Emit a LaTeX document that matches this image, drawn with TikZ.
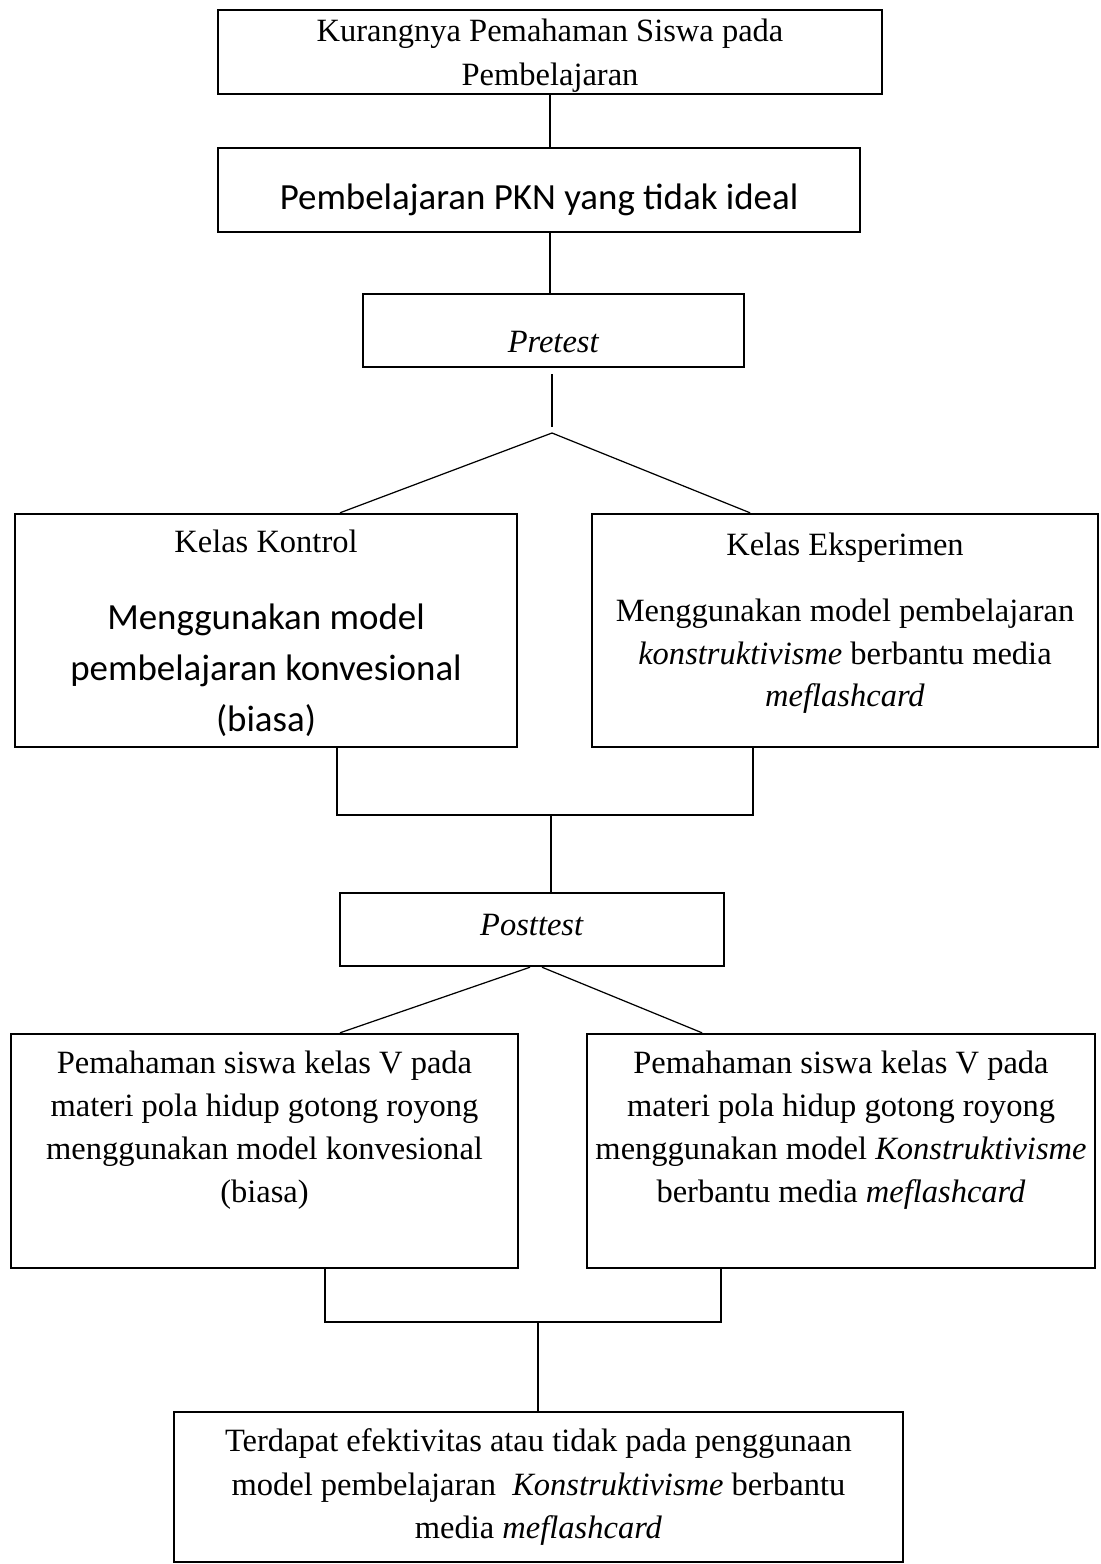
\documentclass[tikz,border=0pt]{standalone}
\usepackage{fontspec}
\setmainfont{Liberation Serif}
\newfontfamily\calibri{Carlito}
\newcommand{\kal}{\calibri\fontsize{21}{29}\selectfont}
\usetikzlibrary{positioning}

\begin{document}
\begin{tikzpicture}[x=0.02cm,y=-0.02cm,
    box/.style={draw,line width=1.4pt,align=center,inner sep=0pt,font=\fontsize{18.5}{24.5}\selectfont},
    link/.style={line width=0.7pt}]
    \useasboundingbox (0,0) rectangle (1100,1564);
    \node[box,minimum width=13.28cm,minimum height=1.68cm,font=\fontsize{18.5}{25}\selectfont,text depth=0pt] (masalah) at (550,52) {Kurangnya Pemahaman Siswa pada\\Pembelajaran};
    \node[box,minimum width=12.84cm,minimum height=1.68cm,font=\kal,text height=26pt,text depth=4.2pt] (pkn) at (539,190) {Pembelajaran PKN yang tidak ideal};
    \node[box,minimum width=7.62cm,minimum height=1.46cm,text height=25.6pt,text depth=0pt] (pre) at (553.5,330.5) {\textit{Pretest}};
    \node[box,minimum width=10.04cm,minimum height=4.66cm,font=\fontsize{18.5}{29}\selectfont,text depth=0pt] (kontrol) at (266,630.5) {Kelas Kontrol\\[14.8pt]{\kal Menggunakan model}\\{\kal pembelajaran konvesional}\\{\kal (biasa)}};
    \node[box,minimum width=10.12cm,minimum height=4.66cm,font=\fontsize{18.5}{24.2}\selectfont,text depth=12.2pt] (eksperimen) at (845,630.5) {Kelas Eksperimen\\[13.8pt]Menggunakan model pembelajaran\\\textit{konstruktivisme} berbantu media\\\textit{meflashcard}};
    \node[box,minimum width=7.68cm,minimum height=1.46cm,text depth=5.7pt] (post) at (532,929.5) {\textit{Posttest}};
    \node[box,minimum width=10.14cm,minimum height=4.68cm,text depth=28pt] (hasilk) at (264.5,1151) {Pemahaman siswa kelas V pada\\materi pola hidup gotong royong\\menggunakan model konvesional\\(biasa)};
    \node[box,minimum width=10.16cm,minimum height=4.68cm,text depth=28pt] (hasile) at (841,1151) {Pemahaman siswa kelas V pada\\materi pola hidup gotong royong\\menggunakan model \textit{Konstruktivisme}\\berbantu media \textit{meflashcard}};
    \node[box,minimum width=14.58cm,minimum height=3cm] (simpulan) at (538.5,1487) {Terdapat efektivitas atau tidak pada penggunaan\\model pembelajaran~ \textit{Konstruktivisme} berbantu\\media \textit{meflashcard}};
    \coordinate (cabang1) at (552,433);
    \coordinate (gabung1) at (551,815);
    \coordinate (gabung2) at (538,1322);
    % alur atas
    \draw[link] (masalah.south) -- (masalah.south |- pkn.north);
    \draw[link] (pkn.south -| masalah) -- (pre.north -| masalah);
    \draw[link] (cabang1 |- pre.south) ++(0,6) -- ([yshift=0.12cm]cabang1);
    \draw[link] (cabang1) -- ([xshift=1.48cm]kontrol.north);
    \draw[link] (cabang1) -- ([xshift=-1.9cm]eksperimen.north);
    % gabung ke posttest
    \draw[link] ([xshift=1.42cm]kontrol.south) |- (gabung1) -| ([xshift=-1.84cm]eksperimen.south);
    \draw[link] (gabung1) -- (post.north -| gabung1);
    \draw[link] ([xshift=-0.04cm]post.south) -- ([xshift=1.51cm]hasilk.north);
    \draw[link] ([xshift=0.2cm]post.south) -- ([xshift=-2.78cm]hasile.north);
    % gabung ke simpulan
    \draw[link] ([xshift=1.21cm]hasilk.south) |- (gabung2) -| ([xshift=-2.4cm]hasile.south);
    \draw[link] (gabung2) -- (simpulan.north -| gabung2);
\end{tikzpicture}
\end{document}
